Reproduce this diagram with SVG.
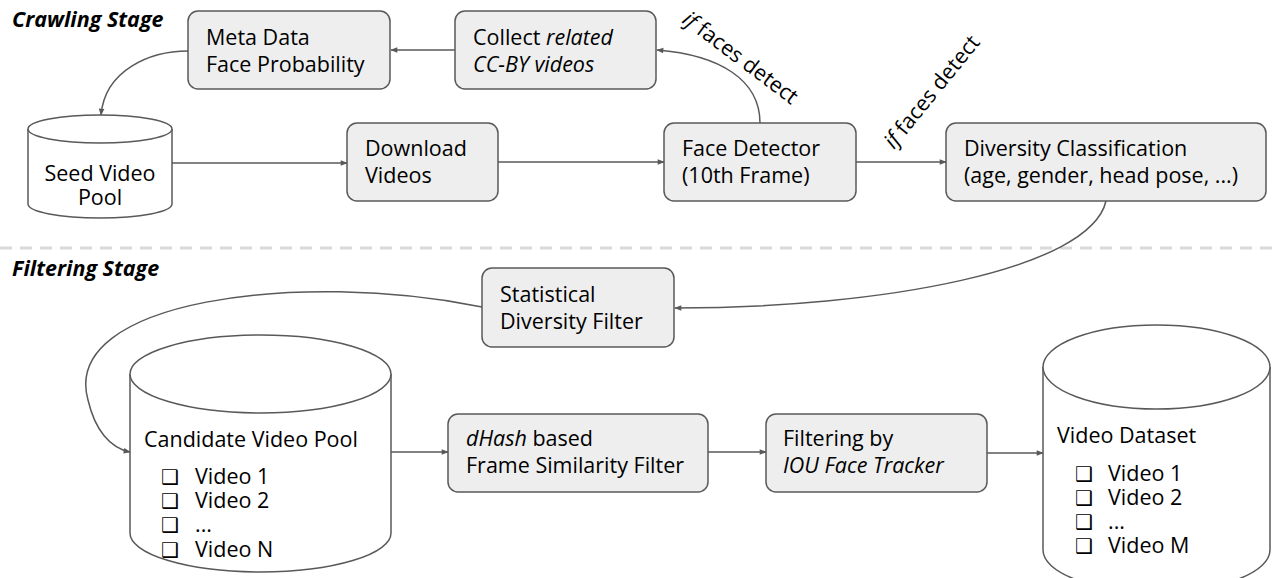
<svg xmlns="http://www.w3.org/2000/svg" width="1277" height="578" viewBox="0 0 1277 578">
<style>
.box{fill:#eeeeee;stroke:#595959;stroke-width:1.5}
.cyl{fill:#ffffff;stroke:#595959;stroke-width:1.5}
.t{font-family:"Open Sans","Liberation Sans",sans-serif;font-size:21.5px;fill:#000}
.it{font-style:italic}
.title{font-family:"Open Sans","Liberation Sans",sans-serif;font-size:21.5px;font-weight:bold;font-style:italic;fill:#000}
.cb{font-family:"DejaVu Sans",sans-serif;font-size:20px;fill:#000}
.conn path,.conn line{fill:none;stroke:#595959;stroke-width:1.5}
</style>
<defs>
<marker id="ah" viewBox="0 0 10 10" refX="9" refY="5" markerWidth="8" markerHeight="7" markerUnits="userSpaceOnUse" orient="auto">
<path d="M0,1 L10,5 L0,9 z" fill="#595959"/>
</marker>
</defs>
<rect width="1277" height="578" fill="#ffffff"/>
<text class="title" x="12" y="27">Crawling Stage</text>
<text class="title" x="12" y="276">Filtering Stage</text>
<line x1="0" y1="248" x2="1277" y2="248" stroke="#d9d9d9" stroke-width="3" stroke-dasharray="12 8"/>

<g id="meta">
<rect class="box" x="188" y="11" width="202" height="78" rx="10"/>
<text class="t" x="206" y="45">Meta Data</text>
<text class="t" x="206" y="72">Face Probability</text>
</g>
<g id="collect">
<rect class="box" x="455" y="11" width="201" height="78" rx="10"/>
<text class="t" x="473" y="45">Collect <tspan class="it">related</tspan></text>
<text class="t it" x="473" y="72">CC-BY videos</text>
</g>
<g id="seed">
<path class="cyl" d="M28,129 A72,14 0 0 1 172,129 L172,204 A72,14 0 0 1 28,204 Z"/>
<path class="cyl" d="M28,129 A72,14 0 0 0 172,129" fill="none"/>
<text class="t" x="100" y="181" text-anchor="middle">Seed Video</text>
<text class="t" x="100" y="205" text-anchor="middle">Pool</text>
</g>
<g id="download">
<rect class="box" x="347" y="123" width="151" height="78" rx="10"/>
<text class="t" x="365" y="156">Download</text>
<text class="t" x="365" y="183">Videos</text>
</g>
<g id="facedet">
<rect class="box" x="664" y="123" width="192" height="78" rx="10"/>
<text class="t" x="682" y="156">Face Detector</text>
<text class="t" x="682" y="183">(10th Frame)</text>
</g>
<g id="diversity">
<rect class="box" x="946" y="123" width="320" height="78" rx="10"/>
<text class="t" x="964" y="156">Diversity Classification</text>
<text class="t" x="964" y="183">(age, gender, head pose, ...)</text>
</g>
<g id="statistical">
<rect class="box" x="482" y="268" width="192" height="79" rx="10"/>
<text class="t" x="500" y="302">Statistical</text>
<text class="t" x="500" y="329">Diversity Filter</text>
</g>
<g id="candidate">
<path class="cyl" d="M130,374 A130.5,39 0 0 1 391,374 L391,533 A130.5,39 0 0 1 130,533 Z"/>
<path class="cyl" d="M130,374 A130.5,39 0 0 0 391,374" fill="none"/>
<text class="t" x="144" y="447">Candidate Video Pool</text>
<text class="cb" x="161" y="484">❑</text><text class="t" x="195" y="484">Video 1</text>
<text class="cb" x="161" y="508">❑</text><text class="t" x="195" y="508">Video 2</text>
<text class="cb" x="161" y="532">❑</text><text class="t" x="195" y="532">...</text>
<text class="cb" x="161" y="557">❑</text><text class="t" x="195" y="557">Video N</text>
</g>
<g id="dhash">
<rect class="box" x="448" y="414" width="260" height="78" rx="10"/>
<text class="t" x="466" y="446"><tspan class="it">dHash</tspan> based</text>
<text class="t" x="466" y="473">Frame Similarity Filter</text>
</g>
<g id="iou">
<rect class="box" x="766" y="414" width="221" height="78" rx="10"/>
<text class="t" x="783" y="446">Filtering by</text>
<text class="t it" x="783" y="473">IOU Face Tracker</text>
</g>
<g id="dataset">
<path class="cyl" d="M1043,367 A113.5,42 0 0 1 1270,367 L1270,550 A113.5,42 0 0 1 1043,550 Z"/>
<path class="cyl" d="M1043,367 A113.5,42 0 0 0 1270,367" fill="none"/>
<text class="t" x="1057" y="443">Video Dataset</text>
<text class="cb" x="1075" y="481">❑</text><text class="t" x="1108" y="481">Video 1</text>
<text class="cb" x="1075" y="505">❑</text><text class="t" x="1108" y="505">Video 2</text>
<text class="cb" x="1075" y="529">❑</text><text class="t" x="1108" y="529">...</text>
<text class="cb" x="1075" y="553">❑</text><text class="t" x="1108" y="553">Video M</text>
</g>

<g class="conn">
<line x1="455" y1="50" x2="391" y2="50" marker-end="url(#ah)"/>
<path d="M188,51 C150,51 105,70 101,115" marker-end="url(#ah)"/>
<line x1="172" y1="163" x2="347" y2="163" marker-end="url(#ah)"/>
<line x1="498" y1="162" x2="664" y2="162" marker-end="url(#ah)"/>
<path d="M760,123 C760,80 720,55 657,50" marker-end="url(#ah)"/>
<line x1="856" y1="162" x2="946" y2="162" marker-end="url(#ah)"/>
<path d="M1106,201 C1090,270 880,308 675,308" marker-end="url(#ah)"/>
<path d="M482,307 C300,270 60,300 88,400 C95,430 110,448 130,452" marker-end="url(#ah)"/>
<line x1="391" y1="452" x2="448" y2="452" marker-end="url(#ah)"/>
<line x1="708" y1="452" x2="766" y2="452" marker-end="url(#ah)"/>
<line x1="987" y1="453" x2="1043" y2="453" marker-end="url(#ah)"/>
<text class="t" x="681" y="22" transform="rotate(37 681 22)"><tspan class="it">if</tspan> faces detect</text>
<text class="t" x="894" y="150" transform="rotate(-51 894 150)"><tspan class="it">if</tspan> faces detect</text>
</g>
</svg>
